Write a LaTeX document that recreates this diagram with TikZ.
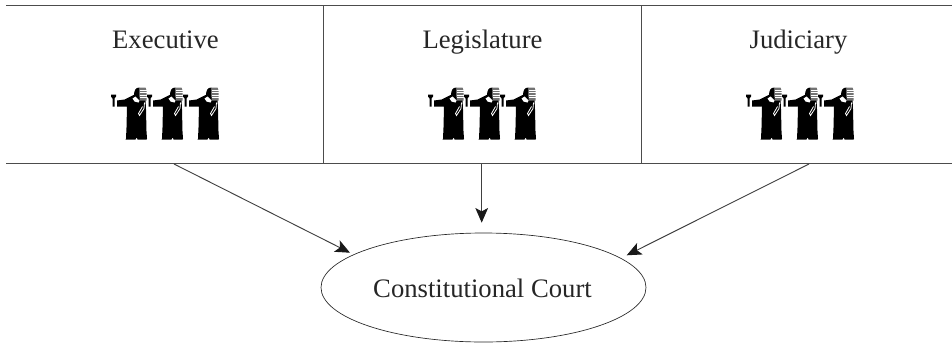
\documentclass[tikz,border=0pt]{standalone}
\usepackage{fontspec}
\setmainfont{Liberation Serif}
\usetikzlibrary{shapes.geometric,arrows.meta}
\tikzset{
	branch/.style={anchor=base, font=\fontsize{20}{24}\selectfont, text=black!85},
	rule/.style={draw=black!70, line width=1pt},
	court/.style={draw=black!85, ellipse, minimum width=325pt*0.75, minimum height=109pt*0.75, line width=0.5pt},
	courtname/.style={anchor=base, font=\fontsize{20}{24}\selectfont, text=black!85},
	link/.style={draw=black!75, line width=0.7pt, -{Stealth[length=11pt,width=9.5pt,inset=2.5pt,color=black!90]}},
}
% one judge, foot at the origin, in pixels of the reference
\newcommand{\judge}[1]{
	\begin{scope}[shift={(#1)}, x=0.75pt, y=-0.75pt]
		% robe and arm
		\fill[black] (-19.5,-39) -- (-12,-40) -- (-6,-43) -- (-2,-45) -- (9,-40) -- (9.5,-30) -- (10,-8) -- (10.5,-1) -- (10,0) -- (1,0) -- (0.5,-1.5) -- (-0.5,-1.5) -- (-1,0) -- (-11,0) -- (-10.5,-1) -- (-10,-12) -- (-9.5,-33) -- (-19.5,-33) -- cycle;
		% face
		\fill[black] (-2.5,-44) .. controls (-2.5,-49) and (-1,-52) .. (3,-52) -- (3,-41) -- cycle;
		% wig
		\fill[black!55] (3,-52) -- (9,-52) -- (10,-49) -- (10,-39) -- (3,-39) -- cycle;
		\draw[white, line width=0.35pt] (3,-49.5) -- (10,-49.5) (3,-47) -- (10,-47) (3,-44.5) -- (10,-44.5) (3,-42) -- (10,-42);
		% gavel
		\fill[black] (-25.5,-45) -- (-20.5,-45) -- (-20.5,-43) -- (-22,-41) -- (-22,-33) -- (-24,-33) -- (-24,-41) -- (-25.5,-43) -- cycle;
		% collar and sleeve
		\fill[white] (-4,-41) -- (-1,-43) -- (3,-39) -- (2,-37) -- (-2,-38) -- cycle;
		\draw[white, line width=0.6pt] (8,-37) -- (7.5,-31) -- (3,-24) -- (2,-26) -- (6,-33);
	\end{scope}
}
\begin{document}
\begin{tikzpicture}[x=0.75pt, y=-0.75pt]
	\useasboundingbox (0,0) rectangle (952,343);
	\coordinate (topl) at (6,5.7);
	\coordinate (topr) at (952,5.7);
	\coordinate (botl) at (6,163.7);
	\coordinate (botr) at (952,163.7);
	\coordinate (colau) at (323.3,5.7);
	\coordinate (colad) at (323.3,163.7);
	\coordinate (colbu) at (641.3,5.7);
	\coordinate (colbd) at (641.3,163.7);
	\draw[rule] (topl) -- (topr);
	\draw[rule] (botl) -- (botr);
	\draw[rule] (colau) -- (colad);
	\draw[rule] (colbu) -- (colbd);
	\node[branch] (executive) at (165.5,48) {Executive};
	\node[branch] (legislature) at (482.5,48) {Legislature};
	\node[branch] (judiciary) at (798.5,48) {Judiciary};
	\foreach \x in {136.5,172.5,208.5,453.5,489.5,525.5,771.5,807.5,843.5}
		\judge{\x,139.5};
	\node[court] (court) at (483.5,287.5) {};
	\node[courtname] (courtname) at (482.5,297) {Constitutional Court};
	\coordinate (execout) at (174,164);
	\coordinate (legout) at (481.7,164);
	\coordinate (judout) at (809,164);
	\draw[link] (execout) -- (350,252.7);
	\draw[link] (legout) -- (481.7,222.7);
	\draw[link] (judout) -- (626.7,255.3);
\end{tikzpicture}
\end{document}
